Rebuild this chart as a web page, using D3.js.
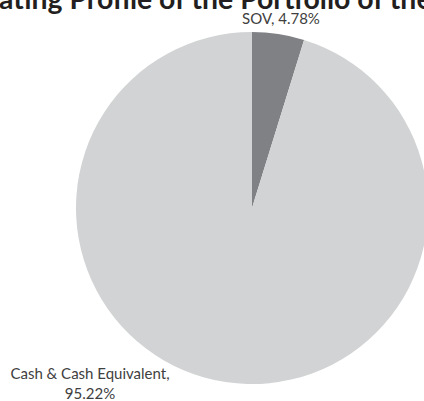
<!DOCTYPE html>
<html>
<head>
<meta charset="utf-8">
<script src="https://cdn.jsdelivr.net/npm/d3@7"></script>
<style>
  html, body { margin: 0; padding: 0; background: #ffffff; }
  svg { display: block; }
</style>
</head>
<body>
<div id="chart"></div>
<script>
// Rating profile data
const categories = ["SOV", "Cash & Cash Equivalent"];
const values = [4.78, 95.22];
const colors = ["#808184", "#d1d3d4"];
const title = "Rating Profile of the Portfolio of the Scheme";

const width = 424, height = 401;
const cx = 252, cy = 208, radius = 176;

const svg = d3.select("#chart").append("svg")
  .attr("width", width)
  .attr("height", height);

// Title (wider than the canvas, so it runs off both sides)
const titleText = svg.append("text")
  .attr("y", 9)
  .attr("font-family", "Lato, 'Open Sans', sans-serif")
  .attr("font-weight", "bold")
  .attr("font-size", 28.4)
  .attr("fill", "#231f20")
  .text(title);
// shift so that the first letter sits just left of the canvas edge
const firstW = titleText.node().getSubStringLength(0, 1);
titleText.attr("x", -firstW - 1);

const data = categories.map((c, i) => ({ category: c, value: values[i], color: colors[i] }));

const pie = d3.pie().sort(null).value(d => d.value);
const arc = d3.arc().innerRadius(0).outerRadius(radius);
const arcs = pie(data);

const g = svg.append("g").attr("transform", `translate(${cx},${cy})`);

g.selectAll("path.slice")
  .data(arcs)
  .join("path")
  .attr("class", "slice")
  .attr("d", arc)
  .attr("fill", d => d.data.color);

// Data labels placed outside the pie
const fmt = v => v.toFixed(2) + "%";
const labelFont = "Lato, 'Open Sans', sans-serif";
const labelSize = 15;

// SOV label above the slice
const sov = arcs[0];
svg.append("text")
  .attr("x", 281)
  .attr("y", 24)
  .attr("text-anchor", "middle")
  .attr("font-family", labelFont)
  .attr("font-size", labelSize)
  .attr("fill", "#404040")
  .text(`${sov.data.category}, ${fmt(sov.data.value)}`);

// Cash label, two lines, bottom-left of the pie
const cash = arcs[1];
const cashText = svg.append("text")
  .attr("text-anchor", "middle")
  .attr("font-family", labelFont)
  .attr("font-size", labelSize)
  .attr("fill", "#404040");
cashText.append("tspan").attr("x", 90).attr("y", 379).text(`${cash.data.category},`);
cashText.append("tspan").attr("x", 90).attr("y", 399).text(fmt(cash.data.value));
</script>
</body>
</html>
